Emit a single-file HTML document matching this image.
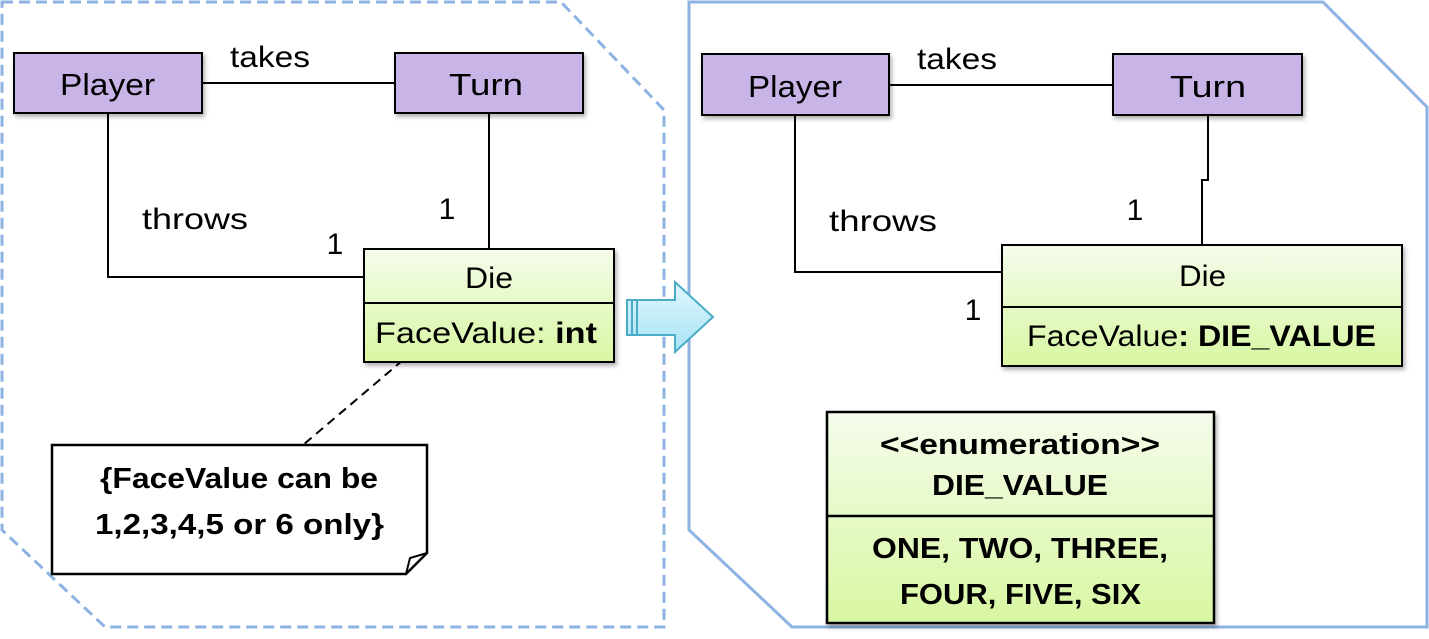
<!DOCTYPE html>
<html><head><meta charset="utf-8"><style>
html,body{margin:0;padding:0;background:#fff;}
svg{display:block;}
text{font-family:"Liberation Sans",sans-serif;fill:#000;}
</style></head><body>
<svg width="1429" height="639" viewBox="0 0 1429 639" xmlns="http://www.w3.org/2000/svg">
<defs>
<linearGradient id="g" x1="0" y1="0" x2="0" y2="1"><stop offset="0" stop-color="#f5fcec"/><stop offset="1" stop-color="#d8f7a2"/></linearGradient>
<linearGradient id="a" x1="0" y1="0" x2="0" y2="1"><stop offset="0" stop-color="#e2f7fd"/><stop offset="1" stop-color="#a6e3f5"/></linearGradient>
<filter id="s" x="-5%" y="-5%" width="115%" height="120%"><feDropShadow dx="2" dy="3" stdDeviation="2" flood-color="#000" flood-opacity="0.3"/></filter>
</defs>
<path d="M2,2 L561,2 L664,110 L664,627 L105,627 L2,530 Z" fill="none" stroke="#8db3e2" stroke-width="3" stroke-dasharray="11,6"/>
<path d="M689,2 L1323,2 L1427,107 L1427,627 L792,627 L689,530 Z" fill="none" stroke="#8db3e2" stroke-width="3"/>

<g stroke="#000" stroke-width="2" fill="none">
<line x1="202" y1="83" x2="395" y2="83"/>
<polyline points="108,113 108,277 364,277"/>
<line x1="489" y1="113" x2="489" y2="249"/>
<line x1="403" y1="360" x2="303" y2="445" stroke-dasharray="9,6"/>
</g>
<rect x="14" y="53" width="188" height="60" fill="#c8b4e6" stroke="#000" stroke-width="2" filter="url(#s)"/>
<rect x="395" y="53" width="188" height="60" fill="#c8b4e6" stroke="#000" stroke-width="2" filter="url(#s)"/>
<text x="60" y="95" font-size="31" textLength="95" lengthAdjust="spacingAndGlyphs">Player</text>
<text x="449" y="95" font-size="31" textLength="74" lengthAdjust="spacingAndGlyphs">Turn</text>
<text x="230" y="67" font-size="30" textLength="80" lengthAdjust="spacingAndGlyphs">takes</text>
<text x="142" y="229" font-size="30" textLength="106" lengthAdjust="spacingAndGlyphs">throws</text>
<text x="447" y="219" font-size="30" text-anchor="middle">1</text>
<text x="335" y="254" font-size="30" text-anchor="middle">1</text>
<rect x="364" y="249" width="250" height="113" fill="url(#g)" stroke="#000" stroke-width="2" filter="url(#s)"/>
<line x1="364" y1="303" x2="614" y2="303" stroke="#000" stroke-width="2"/>
<text x="465" y="288" font-size="30" textLength="48" lengthAdjust="spacingAndGlyphs">Die</text>
<text x="375" y="343" font-size="30" textLength="222" lengthAdjust="spacingAndGlyphs">FaceValue: <tspan font-weight="bold">int</tspan></text>
<path d="M52,445 L427,445 L427,553 L406,574 L52,574 Z" fill="#fff" stroke="#000" stroke-width="2.5"/>
<path d="M427,553 L410,558 L406,574" fill="none" stroke="#000" stroke-width="2"/>
<text x="100" y="488" font-size="29" font-weight="bold" textLength="278" lengthAdjust="spacingAndGlyphs">{FaceValue can be</text>
<text x="95" y="534" font-size="29" font-weight="bold" textLength="289" lengthAdjust="spacingAndGlyphs">1,2,3,4,5 or 6 only}</text>

<path d="M627,300 L675,300 L675,282 L713,317 L675,352 L675,335 L627,335 Z" fill="url(#a)" stroke="#4bacc6" stroke-width="2"/>
<line x1="632" y1="300" x2="632" y2="335" stroke="#4bacc6" stroke-width="2"/>
<line x1="637" y1="300" x2="637" y2="335" stroke="#4bacc6" stroke-width="2"/>

<g stroke="#000" stroke-width="2" fill="none">
<line x1="889" y1="85" x2="1113" y2="85"/>
<polyline points="795,115 795,272 1002,272"/>
<polyline points="1208,115 1208,180 1202,180 1202,245"/>
</g>
<rect x="702" y="54" width="187" height="61" fill="#c8b4e6" stroke="#000" stroke-width="2" filter="url(#s)"/>
<rect x="1113" y="54" width="189" height="61" fill="#c8b4e6" stroke="#000" stroke-width="2" filter="url(#s)"/>
<text x="748" y="97" font-size="31" textLength="94" lengthAdjust="spacingAndGlyphs">Player</text>
<text x="1170" y="97" font-size="31" textLength="76" lengthAdjust="spacingAndGlyphs">Turn</text>
<text x="917" y="69" font-size="30" textLength="80" lengthAdjust="spacingAndGlyphs">takes</text>
<text x="829" y="231" font-size="30" textLength="108" lengthAdjust="spacingAndGlyphs">throws</text>
<text x="1135" y="220" font-size="30" text-anchor="middle">1</text>
<text x="973" y="320" font-size="30" text-anchor="middle">1</text>
<rect x="1002" y="245" width="400" height="121" fill="url(#g)" stroke="#000" stroke-width="2" filter="url(#s)"/>
<line x1="1002" y1="307" x2="1402" y2="307" stroke="#000" stroke-width="2"/>
<text x="1179" y="286" font-size="30" textLength="47" lengthAdjust="spacingAndGlyphs">Die</text>
<text x="1027" y="346" font-size="30" textLength="349" lengthAdjust="spacingAndGlyphs">FaceValue<tspan font-weight="bold">: DIE_VALUE</tspan></text>
<rect x="827" y="412" width="387" height="211" fill="url(#g)" stroke="#000" stroke-width="2.5" filter="url(#s)"/>
<line x1="827" y1="516" x2="1214" y2="516" stroke="#000" stroke-width="2.5"/>
<text x="880" y="454" font-size="29" font-weight="bold" textLength="280" lengthAdjust="spacingAndGlyphs">&lt;&lt;enumeration&gt;&gt;</text>
<text x="932" y="495" font-size="29" font-weight="bold" textLength="176" lengthAdjust="spacingAndGlyphs">DIE_VALUE</text>
<text x="872" y="558" font-size="29" font-weight="bold" textLength="296" lengthAdjust="spacingAndGlyphs">ONE, TWO, THREE,</text>
<text x="900" y="604" font-size="29" font-weight="bold" textLength="241" lengthAdjust="spacingAndGlyphs">FOUR, FIVE, SIX</text>
</svg>
</body></html>
